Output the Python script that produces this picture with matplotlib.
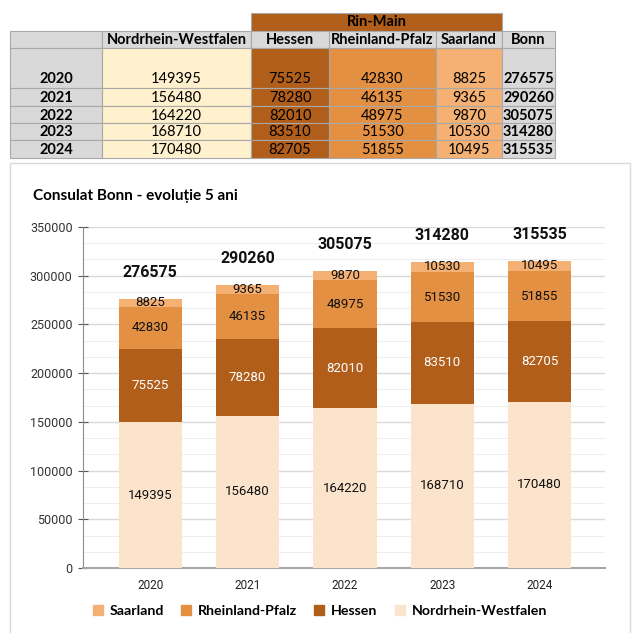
import matplotlib
matplotlib.use('Agg')
import matplotlib.pyplot as plt
from matplotlib.patches import Rectangle, Patch
from matplotlib.ticker import MultipleLocator

years = ['2020', '2021', '2022', '2023', '2024']
nrw = [149395, 156480, 164220, 168710, 170480]
hessen = [75525, 78280, 82010, 83510, 82705]
rp = [42830, 46135, 48975, 51530, 51855]
saar = [8825, 9365, 9870, 10530, 10495]
bonn = [276575, 290260, 305075, 314280, 315535]
series_names = ['Nordrhein-Westfalen', 'Hessen', 'Rheinland-Pfalz', 'Saarland']
region_label = 'Rin-Main'
total_label = 'Bonn'
title = 'Consulat Bonn - evoluție 5 ani'

C_NRW_T = '#FFF0CE'
C_NRW = '#FCE4CC'
C_HES = '#B15E1B'
C_RP = '#E39043'
C_SAAR = '#F4B173'
C_GREY = '#D9D9D9'
LINE = '#A8A8A8'

TF = ['Lato', 'DejaVu Sans']
NF = ['Roboto', 'DejaVu Sans']

fig = plt.figure(figsize=(6.4, 6.33), dpi=100)
cax = fig.add_axes([0, 0, 1, 1])
cax.set_xlim(0, 640)
cax.set_ylim(633, 0)
cax.axis('off')

# ---- table ----
xs = [10, 102, 251, 329, 436, 502, 555]
ys = [31, 48, 88, 106, 123, 140, 158]
col_fill = [C_GREY, C_NRW_T, C_HES, C_RP, C_SAAR, C_GREY]
# Rin-Main header
cax.add_patch(Rectangle((xs[2], 13), xs[5] - xs[2], 18, facecolor=C_HES, edgecolor=LINE, lw=0.8))
cax.text((xs[2] + xs[5]) / 2, 22.5, region_label, ha='center', va='center', fontsize=10.5,
         fontweight='bold', family=TF)
# header row
for i in range(6):
    cax.add_patch(Rectangle((xs[i], ys[0]), xs[i + 1] - xs[i], ys[1] - ys[0], facecolor=C_GREY,
                            edgecolor=LINE, lw=0.8))
headers = [''] + series_names + [total_label]
for i, h in enumerate(headers):
    cax.text((xs[i] + xs[i + 1]) / 2, 40.5, h, ha='center', va='center', fontsize=10.5,
             fontweight='bold', family=TF)
# data rows
cols = [years, nrw, hessen, rp, saar, bonn]
for r in range(5):
    y0, y1 = ys[r + 1], ys[r + 2]
    for i in range(6):
        cax.add_patch(Rectangle((xs[i], y0), xs[i + 1] - xs[i], y1 - y0, facecolor=col_fill[i],
                                edgecolor=LINE, lw=0.8))
    yt = (y0 + y1) / 2 + 1 if r > 0 else 79
    for i in range(6):
        bold = i in (0, 5)
        cax.text((xs[i] + xs[i + 1]) / 2, yt, str(cols[i][r]), ha='center', va='center',
                 fontsize=10.5, fontweight='bold' if bold else 'normal', family=TF)

# chart border
cax.add_patch(Rectangle((10, 163), 620, 480, facecolor='white', edgecolor='#D9D9D9', lw=1))
cax.text(33, 196, title, ha='left', va='center', fontsize=11, fontweight='bold', family=TF)

# ---- chart ----
ax = fig.add_axes([83 / 640, 65 / 633, 522 / 640, 341 / 633])
ax.set_zorder(2)
x = list(range(len(years)))
w = 0.65
b1 = ax.bar(x, nrw, w, color=C_NRW, label=series_names[0], zorder=3)
b2 = ax.bar(x, hessen, w, bottom=nrw, color=C_HES, label=series_names[1], zorder=3)
bot3 = [a + b for a, b in zip(nrw, hessen)]
b3 = ax.bar(x, rp, w, bottom=bot3, color=C_RP, label=series_names[2], zorder=3)
bot4 = [a + b for a, b in zip(bot3, rp)]
b4 = ax.bar(x, saar, w, bottom=bot4, color=C_SAAR, label=series_names[3], zorder=3)

ax.bar_label(b1, label_type='center', fontsize=9.5, family=NF, color='#111111')
ax.bar_label(b2, label_type='center', fontsize=9.5, family=NF, color='white')
ax.bar_label(b3, label_type='center', fontsize=9.5, family=NF, color='#111111')
ax.bar_label(b4, label_type='center', fontsize=9.5, family=NF, color='#111111')
for xi, t in zip(x, bonn):
    ax.annotate(str(t), (xi, t), xytext=(0, 19), textcoords='offset points', ha='center',
                va='center', fontsize=11.5, fontweight='bold', family=NF, color='#111111')

ax.set_xlim(-0.69, 4.67)
ax.set_ylim(0, 350000)
ax.yaxis.set_major_locator(MultipleLocator(50000))
ax.yaxis.set_minor_locator(MultipleLocator(50000 / 3))
ax.grid(axis='y', which='major', color='#D9D9D9', lw=1, zorder=0)
ax.grid(axis='y', which='minor', color='#EEEEEE', lw=0.8, zorder=0)
ax.set_axisbelow(True)
for s in ['top', 'right']:
    ax.spines[s].set_visible(False)
ax.spines['left'].set_color('#8C8C8C')
ax.spines['bottom'].set_color('#A6A6A6')
ax.spines['bottom'].set_linewidth(1.5)
ax.set_xticks(x)
ax.set_xticklabels(years, fontsize=8.5, family=NF, color='#222222')
ax.tick_params(axis='x', length=0, pad=8)
ax.tick_params(axis='y', which='major', direction='inout', length=7, color='#555555',
               labelsize=9, labelcolor='#333333', pad=4)
ax.tick_params(axis='y', which='minor', length=0)
for lab in ax.get_yticklabels():
    lab.set_family(NF)
ax.set_facecolor('none')

handles = [Patch(color=C_SAAR), Patch(color=C_RP), Patch(color=C_HES), Patch(color=C_NRW)]
labels = [series_names[3], series_names[2], series_names[1], series_names[0]]
fig.legend(handles, labels, loc='center', bbox_to_anchor=(320 / 640, 1 - 611 / 633), ncol=4,
           frameon=False, handlelength=0.7, handleheight=0.7, handletextpad=0.5,
           columnspacing=1.2, prop={'family': TF, 'weight': 'bold', 'size': 10.2})

fig.savefig('out.png', dpi=100)
